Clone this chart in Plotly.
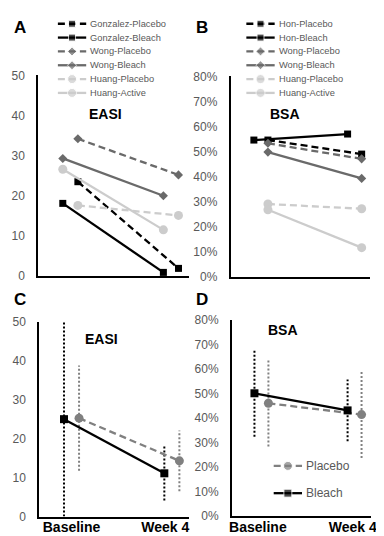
import plotly.graph_objects as go

W, H = 384, 536

# ---------------- data ----------------
timepoints = ["Baseline", "Week 4"]

a_series = ["Gonzalez-Placebo", "Gonzalez-Bleach", "Wong-Placebo", "Wong-Bleach", "Huang-Placebo", "Huang-Active"]
a_base = [23.5, 18.1, 34.2, 29.3, 17.6, 26.6]
a_week4 = [1.9, 0.9, 25.2, 20.0, 15.1, 11.5]

b_series = ["Hon-Placebo", "Hon-Bleach", "Wong-Placebo", "Wong-Bleach", "Huang-Placebo", "Huang-Active"]
b_base = [0.546, 0.546, 0.533, 0.498, 0.291, 0.268]
b_week4 = [0.490, 0.570, 0.471, 0.393, 0.272, 0.117]

c_groups = ["Placebo", "Bleach"]
c_base = [25.25, 25.0]
c_base_err = [13.5, 25.0]
c_week4 = [14.3, 11.1]
c_week4_err = [7.8, 7.0]

d_groups = ["Placebo", "Bleach"]
d_base = [0.460, 0.501]
d_base_err = [0.177, 0.178]
d_week4 = [0.414, 0.431]
d_week4_err = [0.177, 0.126]

# ---------------- styles ----------------
BLACK = "#000000"
GRAY = "#6a6a6a"
LIGHT = "#cccccc"
PGRAY = "#808080"
DASH = "7px,4px"

style = {
    "Gonzalez-Placebo": dict(color=BLACK, dash=DASH, symbol="square", size=7),
    "Gonzalez-Bleach": dict(color=BLACK, dash="solid", symbol="square", size=7),
    "Hon-Placebo": dict(color=BLACK, dash=DASH, symbol="square", size=7),
    "Hon-Bleach": dict(color=BLACK, dash="solid", symbol="square", size=7),
    "Wong-Placebo": dict(color=GRAY, dash=DASH, symbol="diamond", size=7),
    "Wong-Bleach": dict(color=GRAY, dash="solid", symbol="diamond", size=7),
    "Huang-Placebo": dict(color=LIGHT, dash=DASH, symbol="circle", size=9),
    "Huang-Active": dict(color=LIGHT, dash="solid", symbol="circle", size=9),
    "Placebo": dict(color=PGRAY, dash=DASH, symbol="circle", size=9),
    "Bleach": dict(color=BLACK, dash="solid", symbol="square", size=8),
}

SHIFT = 0.15
a_shift = [1, 0, 1, 0, 1, 0]
b_shift = [1, 0, 1, 1, 1, 1]
cd_shift = [1, 0]

fig = go.Figure()


def add_series(names, base, week4, shifts, xa, ya):
    for n, b0, w4, s in zip(names, base, week4, shifts):
        st = style[n]
        fig.add_trace(go.Scatter(
            x=[0 + s * SHIFT, 1 + s * SHIFT], y=[b0, w4], mode="lines+markers",
            line=dict(color=st["color"], dash=st["dash"], width=2.3),
            marker=dict(color=st["color"], symbol=st["symbol"], size=st["size"]),
            xaxis=xa, yaxis=ya, showlegend=False, cliponaxis=False, name=n))


def add_err(names, base, berr, week4, werr, shifts, xa, ya):
    for n, b0, be, w4, we, s in zip(names, base, berr, week4, werr, shifts):
        st = style[n]
        for xi, yv, ev in [(0, b0, be), (1, w4, we)]:
            x = xi + s * SHIFT
            fig.add_trace(go.Scatter(
                x=[x, x], y=[yv - ev, yv + ev], mode="lines",
                line=dict(color=st["color"], dash="2px,2px", width=2),
                xaxis=xa, yaxis=ya, showlegend=False, cliponaxis=False, hoverinfo="skip"))


add_series(a_series, a_base, a_week4, a_shift, "x", "y")
add_series(b_series, b_base, b_week4, b_shift, "x2", "y2")
add_err(c_groups, c_base, c_base_err, c_week4, c_week4_err, cd_shift, "x3", "y3")
add_series(c_groups, c_base, c_week4, cd_shift, "x3", "y3")
add_err(d_groups, d_base, d_base_err, d_week4, d_week4_err, cd_shift, "x4", "y4")
add_series(d_groups, d_base, d_week4, cd_shift, "x4", "y4")

# ---------------- manual legends (overlay pixel axis) ----------------
ann = []
LEG_FONT = dict(family="Liberation Sans, Arial, sans-serif", size=9.3, color="#595959")


def add_legend(names, x0, x1, y0, dy, font):
    for i, n in enumerate(names):
        st = style[n]
        y = y0 + i * dy
        fig.add_trace(go.Scatter(
            x=[x0, (x0 + x1) / 2, x1], y=[y, y, y], mode="lines+markers",
            line=dict(color=st["color"], dash=st["dash"], width=2.3),
            marker=dict(color=st["color"], symbol=st["symbol"], size=[0, st["size"], 0]),
            xaxis="x5", yaxis="y5", showlegend=False, cliponaxis=False, hoverinfo="skip"))
        ann.append(dict(text=n, x=(x1 + 2) / W, y=1 - y / H, xref="paper", yref="paper",
                        xanchor="left", yanchor="middle", showarrow=False, font=font))


add_legend(a_series, 48, 77, 9, 14.2, LEG_FONT)
add_legend(b_series, 241, 270, 9, 14.2, LEG_FONT)
add_legend(d_groups, 269, 298, 463, 28,
           dict(family="Liberation Sans, Arial, sans-serif", size=12, color="#595959"))

# ---------------- titles & panel letters ----------------
TITLE_FONT = dict(family="Liberation Sans, Arial, sans-serif", size=14, color="black", weight="bold")
LETTER_FONT = dict(family="Liberation Sans, Arial, sans-serif", size=17, color="black", weight="bold")
for t, x, y in [("EASI", 96.5, 102), ("BSA", 281, 102), ("EASI", 92.5, 333), ("BSA", 279, 323)]:
    ann.append(dict(text=t, x=x / W, y=1 - y / H, xref="paper", yref="paper",
                    xanchor="center", yanchor="middle", showarrow=False, font=TITLE_FONT))
for t, x, y in [("A", 1, 12.5), ("B", 187, 12.5), ("C", 1, 292.5), ("D", 187, 292)]:
    ann.append(dict(text=t, x=x / W, y=1 - y / H, xref="paper", yref="paper",
                    xanchor="left", yanchor="middle", showarrow=False, font=LETTER_FONT))

# ---------------- axes ----------------
TICK_FONT = dict(family="Liberation Sans, Arial, sans-serif", size=12, color="#595959")
XT_FONT = dict(family="Liberation Sans, Arial, sans-serif", size=14, color="black", weight="bold")


def xdom(a, b):
    return [a / W, b / W]


def ydom(top, bottom):
    return [1 - bottom / H, 1 - top / H]


common_x = dict(showline=True, linecolor="black", linewidth=2, showgrid=False, zeroline=False,
                ticks="", fixedrange=True)
common_y = dict(showline=True, linecolor="black", linewidth=2, showgrid=False, zeroline=False,
                ticks="", tickfont=TICK_FONT, ticklabelstandoff=9, fixedrange=True)

fig.update_layout(
    width=W, height=H, margin=dict(l=0, r=0, t=0, b=0),
    paper_bgcolor="white", plot_bgcolor="rgba(0,0,0,0)", showlegend=False,
    xaxis=dict(common_x, domain=xdom(28, 182), range=[-0.243, 1.252], showticklabels=False, anchor="y"),
    yaxis=dict(common_y, domain=ydom(62, 268), range=[0, 50], dtick=10, anchor="x"),
    xaxis2=dict(common_x, domain=xdom(225, 368), range=[-0.247, 1.243], showticklabels=False, anchor="y2"),
    yaxis2=dict(common_y, domain=ydom(63, 269), range=[0, 0.8], dtick=0.1, tickformat=".0%", anchor="x2"),
    xaxis3=dict(common_x, domain=xdom(29, 182.7), range=[-0.246, 1.25], tickvals=[0.075, 1.01],
                ticktext=timepoints, tickfont=XT_FONT, ticklabelstandoff=-3, anchor="y3"),
    yaxis3=dict(common_y, domain=ydom(315, 515), range=[0, 50], dtick=10, anchor="x3"),
    xaxis4=dict(common_x, domain=xdom(226.3, 368.7), range=[-0.241, 1.252], tickvals=[0.037, 1.055],
                ticktext=timepoints, tickfont=XT_FONT, ticklabelstandoff=-3, anchor="y4"),
    yaxis4=dict(common_y, domain=ydom(313.3, 514.3), range=[0, 0.8], dtick=0.1, tickformat=".0%", anchor="x4"),
    xaxis5=dict(domain=[0, 1], range=[0, W], visible=False, fixedrange=True, anchor="y5"),
    yaxis5=dict(domain=[0, 1], range=[H, 0], visible=False, fixedrange=True, anchor="x5"),
    annotations=ann,
)

fig.write_html("out.html")
